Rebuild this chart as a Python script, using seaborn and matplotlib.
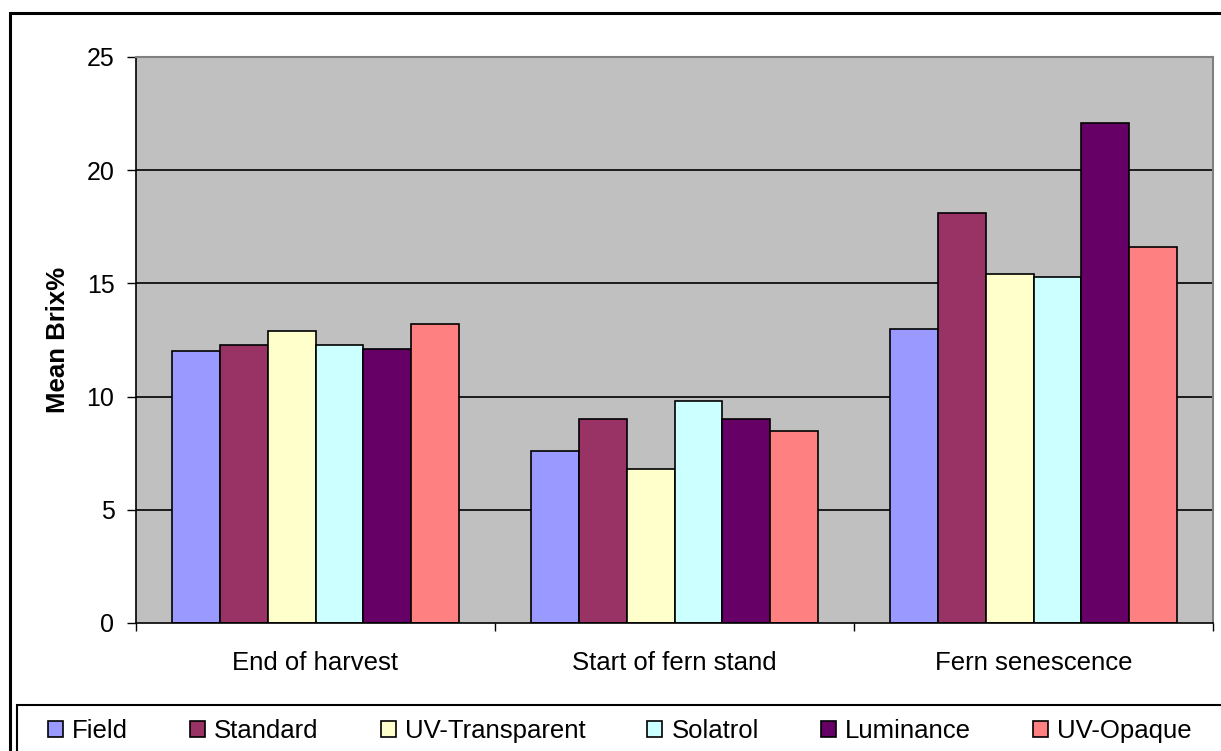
import matplotlib
matplotlib.use("Agg")
import matplotlib.pyplot as plt
from matplotlib.patches import Rectangle
from matplotlib.ticker import FixedLocator, NullFormatter
import pandas as pd
import seaborn as sns

# Sampling stages and shade-cloth treatments
stages = ["End of harvest", "Start of fern stand", "Fern senescence"]
treatments = ["Field", "Standard", "UV-Transparent", "Solatrol", "Luminance", "UV-Opaque"]

# Mean Brix% per treatment, one list per stage
end_of_harvest = [12.0, 12.3, 12.9, 12.3, 12.1, 13.2]
start_of_fern = [7.6, 9.0, 6.8, 9.8, 9.0, 8.5]
fern_senescence = [13.0, 18.1, 15.4, 15.3, 22.1, 16.6]

colors = ["#9999FF", "#993366", "#FFFFCC", "#CCFFFF", "#660066", "#FF8080"]

rows = []
for stage, vals in zip(stages, [end_of_harvest, start_of_fern, fern_senescence]):
    for t, v in zip(treatments, vals):
        rows.append({"Stage": stage, "Treatment": t, "Brix": v})
df = pd.DataFrame(rows)

sns.set_style("white")
plt.rcParams["font.family"] = ["Liberation Sans", "DejaVu Sans"]
plt.rcParams["text.color"] = "black"
plt.rcParams["axes.labelcolor"] = "black"
plt.rcParams["xtick.color"] = "black"
plt.rcParams["ytick.color"] = "black"

W, H = 1221, 751
fig = plt.figure(figsize=(W / 100, H / 100), dpi=100)
ax = fig.add_axes([136 / W, 1 - 623 / H, 1077 / W, 566 / H])

sns.barplot(data=df, x="Stage", y="Brix", hue="Treatment", order=stages,
            hue_order=treatments, palette=colors, width=0.8, gap=0,
            edgecolor="black", linewidth=1.2, saturation=1, errorbar=None,
            ax=ax, legend=True)

ax.set_facecolor("#C0C0C0")
ax.set_xlim(-0.5, 2.5)
ax.set_ylim(0, 25)
ax.set_yticks([0, 5, 10, 15, 20, 25])
ax.set_yticklabels(["0", "5", "10", "15", "20", "25"])
for yv in [5, 10, 15, 20]:
    ax.axhline(yv, color="black", lw=1.2, zorder=0.5)

# Category boundaries carry the tick marks; labels sit at the centres
ax.xaxis.set_major_locator(FixedLocator([-0.5, 0.5, 1.5, 2.5]))
ax.xaxis.set_major_formatter(NullFormatter())
ax.xaxis.set_minor_locator(FixedLocator([0, 1, 2]))
ax.set_xticklabels(stages, minor=True)
ax.tick_params(axis="x", which="major", direction="out", length=6,
               width=1.0, color="black", bottom=True)
ax.tick_params(axis="x", which="minor", length=0, pad=20, labelsize=18.5,
               bottom=True, labelcolor="black")
ax.tick_params(axis="y", direction="out", length=6.5, width=1.0,
               color="black", pad=9, labelsize=18, left=True,
               labelcolor="black")

ax.set_xlabel("")
ax.set_ylabel("Mean Brix%", fontsize=18.5, fontweight="bold", color="black")
ax.yaxis.set_label_coords(-0.061, 0.5)

for side in ["left", "bottom"]:
    ax.spines[side].set_color("black")
    ax.spines[side].set_linewidth(1.2)
for side in ["top", "right"]:
    ax.spines[side].set_visible(True)
    ax.spines[side].set_color("#808080")
    ax.spines[side].set_linewidth(1.5)

handles, labels = ax.get_legend_handles_labels()
ax.get_legend().remove()
leg = fig.legend(handles, labels, loc="center left",
                 bbox_to_anchor=(48 / W, 1 - 731 / H), ncol=6,
                 frameon=False, fontsize=18.5, handlelength=0.58,
                 handleheight=0.58, handletextpad=0.36, columnspacing=2.41,
                 borderaxespad=0, borderpad=0, labelcolor="black")

# Chart border and legend box
fig.patches.append(Rectangle((10 / W, -0.05), 1.1, 1 - 13 / H + 0.05,
                             transform=fig.transFigure, fill=False,
                             edgecolor="black", lw=2.2))
fig.patches.append(Rectangle((17 / W, -0.05), 1.1, 1 - 705 / H + 0.05,
                             transform=fig.transFigure, fill=False,
                             edgecolor="black", lw=1.5))

fig.savefig("out.png", dpi=100, facecolor="white")
